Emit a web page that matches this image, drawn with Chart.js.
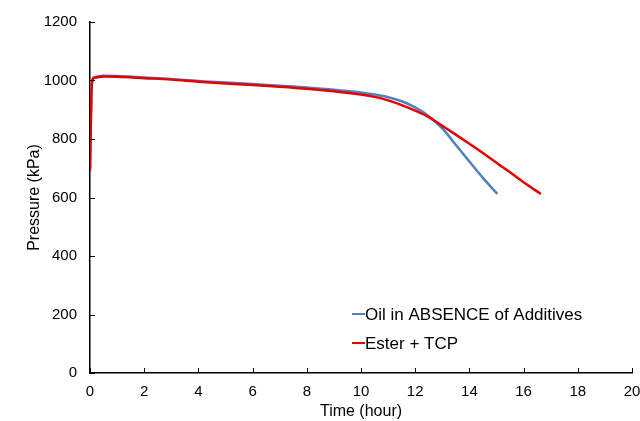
<!DOCTYPE html>
<html>
<head>
<meta charset="utf-8">
<script src="https://cdn.jsdelivr.net/npm/chart.js@4"></script>
<style>
  html, body { margin: 0; padding: 0; background: #fff; }
  #wrap { width: 640px; height: 421px; }
</style>
</head>
<body>
<div id="wrap"><canvas id="c"></canvas></div>
<script>
// ---- DATA ----
const oilTime = [0, 0.05, 0.1, 0.2, 0.5, 1, 2, 3, 4, 5, 6, 7, 8, 9, 10, 10.5, 11, 11.5, 12, 12.5, 13, 13.5, 14, 14.5, 15.03];
const oilPressure = [700, 950, 1005, 1012, 1016, 1015, 1010, 1005, 998, 993, 988, 982, 976, 968, 959, 952, 943, 929, 908, 878, 836, 780, 723, 667, 612];

const esterTime = [0, 0.05, 0.1, 0.2, 0.5, 1, 2, 3, 4, 5, 6, 7, 8, 9, 10, 10.5, 11, 11.5, 12, 12.5, 13, 13.5, 14, 14.5, 15, 15.5, 16, 16.64];
const esterPressure = [690, 950, 1005, 1010, 1014, 1013, 1008, 1003, 996, 990, 985, 979, 972, 963, 952, 944, 932, 916, 897, 875, 845, 815, 784, 752, 719, 686, 652, 612];

const seriesNames = ['Oil in ABSENCE of Additives', 'Ester + TCP'];
const seriesColors = ['#4F81BD', '#E80000'];

const xTicks = [0, 2, 4, 6, 8, 10, 12, 14, 16, 18, 20];
const yTicks = [0, 200, 400, 600, 800, 1000, 1200];

const toPoints = (xs, ys) => xs.map((x, i) => ({ x, y: ys[i] }));

const FONT = "'Liberation Sans', Arial, sans-serif";
Chart.defaults.font.family = FONT;
Chart.defaults.color = '#000';

// tick marks pointing into the plot + legend inside the plot
const insideTicks = {
    id: 'insideTicks',
    afterDraw(chart) {
        const { ctx, chartArea: a, scales } = chart;
        ctx.save();
        ctx.strokeStyle = '#000';
        ctx.lineWidth = 1;
        xTicks.forEach(v => {
            const px = Math.round(scales.x.getPixelForValue(v)) + 0.5;
            ctx.beginPath();
            ctx.moveTo(px, a.bottom);
            ctx.lineTo(px, a.bottom - 5);
            ctx.stroke();
        });
        yTicks.forEach(v => {
            const py = Math.round(scales.y.getPixelForValue(v)) + 0.5;
            ctx.beginPath();
            ctx.moveTo(a.left, py);
            ctx.lineTo(a.left + 5, py);
            ctx.stroke();
        });

        // legend
        ctx.font = '17px ' + FONT;
        ctx.textBaseline = 'middle';
        ctx.fillStyle = '#000';
        const lx = a.left + 262;
        const ly = [a.top + 292, a.top + 321];
        seriesNames.forEach((name, i) => {
            ctx.strokeStyle = seriesColors[i];
            ctx.lineWidth = 2;
            ctx.beginPath();
            ctx.moveTo(lx, ly[i]);
            ctx.lineTo(lx + 13, ly[i]);
            ctx.stroke();
            ctx.fillText(name, lx + 13, ly[i] + 1);
        });
        ctx.restore();
    }
};

new Chart(document.getElementById('c'), {
    type: 'scatter',
    data: {
        datasets: [
            {
                label: seriesNames[0],
                data: toPoints(oilTime, oilPressure),
                borderColor: seriesColors[0],
                backgroundColor: seriesColors[0],
                borderWidth: 2.5,
                showLine: true,
                pointRadius: 0,
                cubicInterpolationMode: 'monotone',
                order: 1
            },
            {
                label: seriesNames[1],
                data: toPoints(esterTime, esterPressure),
                borderColor: seriesColors[1],
                backgroundColor: seriesColors[1],
                borderWidth: 2.5,
                showLine: true,
                pointRadius: 0,
                cubicInterpolationMode: 'monotone',
                order: 0
            }
        ]
    },
    options: {
        responsive: true,
        maintainAspectRatio: false,
        animation: false,
        layout: { autoPadding: false, padding: { top: 21, right: 8, left: 0, bottom: 0 } },
        plugins: {
            legend: { display: false },
            tooltip: { enabled: false }
        },
        scales: {
            x: {
                type: 'linear',
                min: 0,
                max: 20,
                afterBuildTicks: s => { s.ticks = xTicks.map(v => ({ value: v })); },
                afterFit: s => { s.height = 48; s.paddingLeft = 0; s.paddingRight = 0; },
                grid: { drawOnChartArea: false, drawTicks: false },
                border: { color: '#000', width: 1.5 },
                ticks: { font: { size: 15 }, padding: 10, maxRotation: 0, callback: v => String(v) },
                title: { display: true, text: 'Time (hour)', font: { size: 16 }, padding: { top: 0, bottom: 0 } }
            },
            y: {
                min: 0,
                max: 1200,
                afterBuildTicks: s => { s.ticks = yTicks.map(v => ({ value: v })); },
                afterFit: s => { s.width = 90; },
                grid: { drawOnChartArea: false, drawTicks: false },
                border: { color: '#000', width: 1.5 },
                ticks: { font: { size: 15 }, padding: 13, callback: v => String(v) },
                title: { display: true, text: 'Pressure (kPa)', font: { size: 16 }, padding: { top: 25, bottom: 0 } }
            }
        }
    },
    plugins: [insideTicks]
});
</script>
</body>
</html>
